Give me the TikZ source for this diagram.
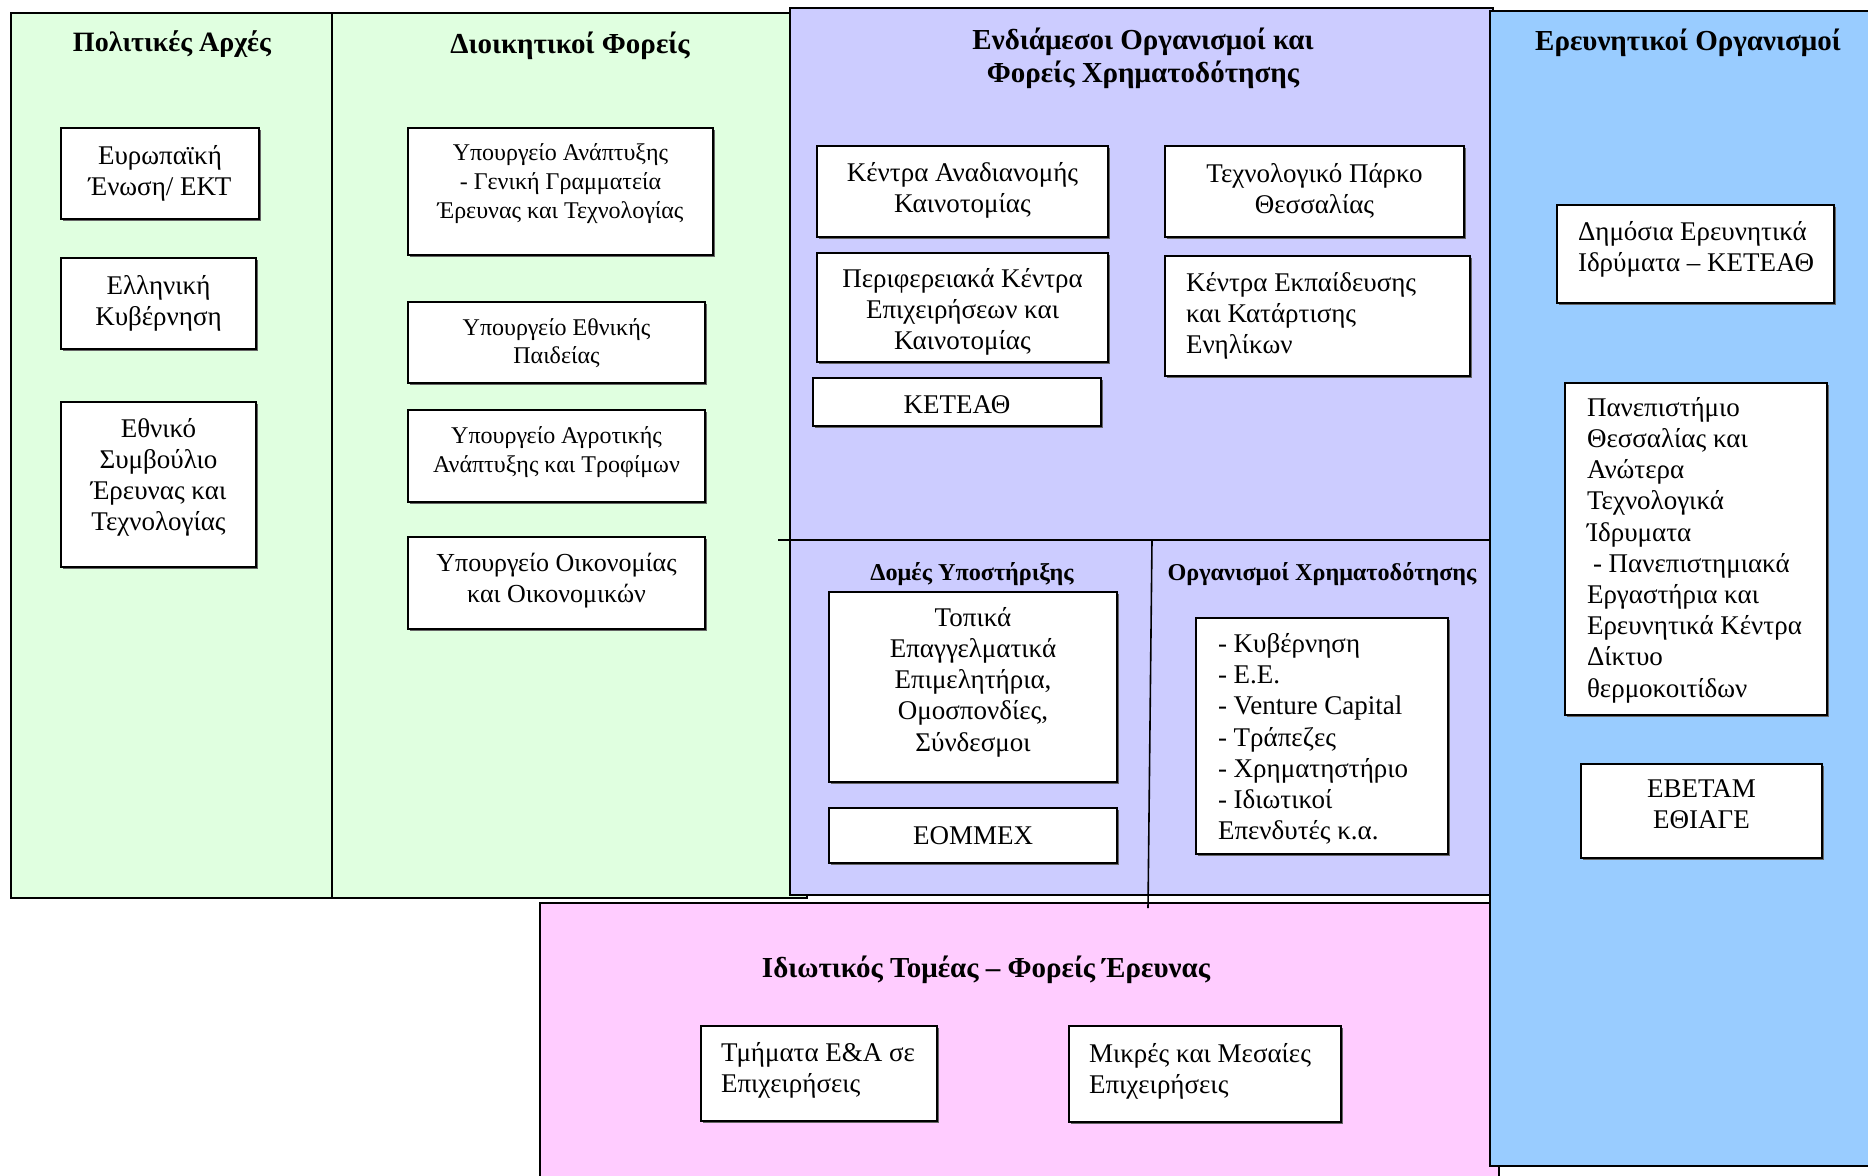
\documentclass[tikz,border=0pt]{standalone}
\usepackage{fontspec}
\setmainfont{Liberation Serif}
\usetikzlibrary{shadows}
\definecolor{pgreen}{RGB}{224,255,224}
\definecolor{ppurple}{RGB}{204,204,255}
\definecolor{pblue}{RGB}{153,204,255}
\definecolor{ppink}{RGB}{255,204,255}
\newcommand\bodyfont{\fontsize{13.5}{15.6}\selectfont}
\newcommand\minfont{\fontsize{12}{14.3}\selectfont}
\newcommand\oikfont{\fontsize{13}{15.5}\selectfont}
\newcommand\titlefont{\fontsize{14.5}{16.5}\selectfont\bfseries}
\newcommand\subtitlefont{\fontsize{12.1}{14}\selectfont\bfseries}
% \bt{width}{height}{font+alignment}{upward shift x2}{text}
\newcommand\bt[5]{\parbox[c][#2][c]{#1}{#3#5\par\vspace{#4}}}
\newcommand\lft[1]{\raggedright\leftskip=#1\relax}
\begin{document}
\begin{tikzpicture}[x=0.5pt,y=-0.5pt,
  panel/.style={draw=black, line width=1pt},
  divider/.style={draw=black, line width=0.8pt},
  box/.style={draw=black, fill=white, line width=1pt, inner sep=0pt, anchor=north west,
    drop shadow={shadow xshift=0.8pt, shadow yshift=-0.8pt, fill=black!60, opacity=1}},
  ttl/.style={inner sep=0pt, align=center, font=\titlefont},
  sttl/.style={inner sep=0pt, font=\subtitlefont}]
\useasboundingbox (0,0) rectangle (1868,1175);

% panels
\draw[panel, fill=pgreen] (11,13) rectangle (807,898);
\draw[divider] (332,13) -- (332,898);
\draw[panel, fill=ppurple] (790,8) rectangle (1493,895);
\draw[divider] (778,540) -- (1491,540);
\draw[panel, fill=ppink] (540,903) rectangle (1499,1200);
\draw[divider] (1152,540) -- (1148,908);
\draw[panel, fill=pblue] (1490,11) rectangle (1900,1166);

% titles
\node[ttl, font=\fontsize{14}{16.5}\selectfont\bfseries] (t1) at (172,44) {Πολιτικές Αρχές};
\node[ttl] (t2) at (570,46) {Διοικητικοί Φορείς};
\node[ttl] (t3) at (1143,58) {Ενδιάμεσοι Οργανισμοί και\\Φορείς Χρηματοδότησης};
\node[ttl] (t4) at (1688,43) {Ερευνητικοί Οργανισμοί};
\node[sttl] (t5) at (972,574) {Δομές Υποστήριξης};
\node[sttl] (t6) at (1322,574) {Οργανισμοί Χρηματοδότησης};
\node[ttl] (t7) at (986,970) {Ιδιωτικός Τομέας – Φορείς Έρευνας};

% political authorities
\node[box] (eu) at (60,127) {\bt{99pt}{45.5pt}{\bodyfont\centering}{0pt}{Ευρωπαϊκή\\Ένωση/ ΕΚΤ}};
\node[box] (gov) at (60,257) {\bt{97.5pt}{45.5pt}{\bodyfont\centering}{0pt}{Ελληνική\\Κυβέρνηση}};
\node[box] (esyt) at (60,401) {\bt{97.5pt}{82.5pt}{\bodyfont\centering}{7pt}{Εθνικό\\Συμβούλιο\\Έρευνας και\\Τεχνολογίας}};

% administrative bodies
\node[box] (ypan) at (407,127) {\bt{152.5pt}{63.5pt}{\minfont\centering}{8pt}{Υπουργείο Ανάπτυξης\\- Γενική Γραμματεία\\Έρευνας και Τεχνολογίας}};
\node[box] (ypep) at (407,301) {\bt{148.5pt}{40.5pt}{\minfont\centering}{-0.5pt}{Υπουργείο Εθνικής\\Παιδείας}};
\node[box] (yagr) at (407,409) {\bt{148.5pt}{46pt}{\minfont\centering}{4pt}{Υπουργείο Αγροτικής\\Ανάπτυξης και Τροφίμων}};
\node[box] (yoik) at (407,536) {\bt{148.5pt}{46pt}{\oikfont\centering}{2pt}{Υπουργείο Οικονομίας\\και Οικονομικών}};

% intermediate bodies
\node[box] (kan) at (816,145) {\bt{145.5pt}{45.5pt}{\bodyfont\centering}{1pt}{Κέντρα Αναδιανομής\\Καινοτομίας}};
\node[box] (tpth) at (1164,145) {\bt{149.5pt}{45.5pt}{\bodyfont\centering}{1pt}{Τεχνολογικό Πάρκο\\Θεσσαλίας}};
\node[box] (pkek) at (816,252) {\bt{145.5pt}{54.5pt}{\bodyfont\centering}{-4.5pt}{Περιφερειακά Κέντρα\\Επιχειρήσεων και\\Καινοτομίας}};
\node[box] (keke) at (1164,255) {\bt{152.5pt}{60pt}{\bodyfont\lft{10.5pt}}{0pt}{Κέντρα Εκπαίδευσης\\και Κατάρτισης\\Ενηλίκων}};
\node[box] (ketea) at (812,377) {\bt{144pt}{24pt}{\bodyfont\centering}{-3pt}{ΚΕΤΕΑΘ}};

% support structures
\node[box] (tep) at (828,591) {\bt{144pt}{95pt}{\bodyfont\centering}{5pt}{Τοπικά\\Επαγγελματικά\\Επιμελητήρια,\\Ομοσπονδίες,\\Σύνδεσμοι}};
\node[box] (eommex) at (828,807) {\bt{144pt}{27.5pt}{\bodyfont\centering}{0pt}{ΕΟΜΜΕΧ}};

% funding bodies
\node[box] (fin) at (1195,617) {\bt{126pt}{118pt}{\bodyfont\lft{11pt}}{-3pt}{- Κυβέρνηση\\- Ε.Ε.\\- Venture Capital\\- Τράπεζες\\- Χρηματηστήριο\\- Ιδιωτικοί\\Επενδυτές κ.α.}};

% research organisations
\node[box] (dei) at (1556,204) {\bt{138.5pt}{49pt}{\bodyfont\lft{10.5pt}}{5pt}{Δημόσια Ερευνητικά\\Ιδρύματα – ΚΕΤΕΑΘ}};
\node[box] (pth) at (1564,382) {\bt{131pt}{166pt}{\bodyfont\lft{11pt}}{-1pt}{Πανεπιστήμιο\\Θεσσαλίας και\\Ανώτερα\\Τεχνολογικά\\Ίδρυματα\\\hspace*{3pt}- Πανεπιστημιακά\\Εργαστήρια και\\Ερευνητικά Κέντρα\\Δίκτυο\\θερμοκοιτίδων}};
\node[box] (ebetam) at (1580,763) {\bt{120.5pt}{47pt}{\bodyfont\centering}{7pt}{ΕΒΕΤΑΜ\\ΕΘΙΑΓΕ}};

% private sector
\node[box] (tea) at (700,1025) {\bt{118pt}{47.5pt}{\bodyfont\lft{10pt}}{3pt}{Τμήματα Ε\&Α σε\\Επιχειρήσεις}};
\node[box] (mme) at (1068,1025) {\bt{136pt}{48pt}{\bodyfont\lft{10pt}}{3pt}{Μικρές και Μεσαίες\\Επιχειρήσεις}};
\end{tikzpicture}
\end{document}
